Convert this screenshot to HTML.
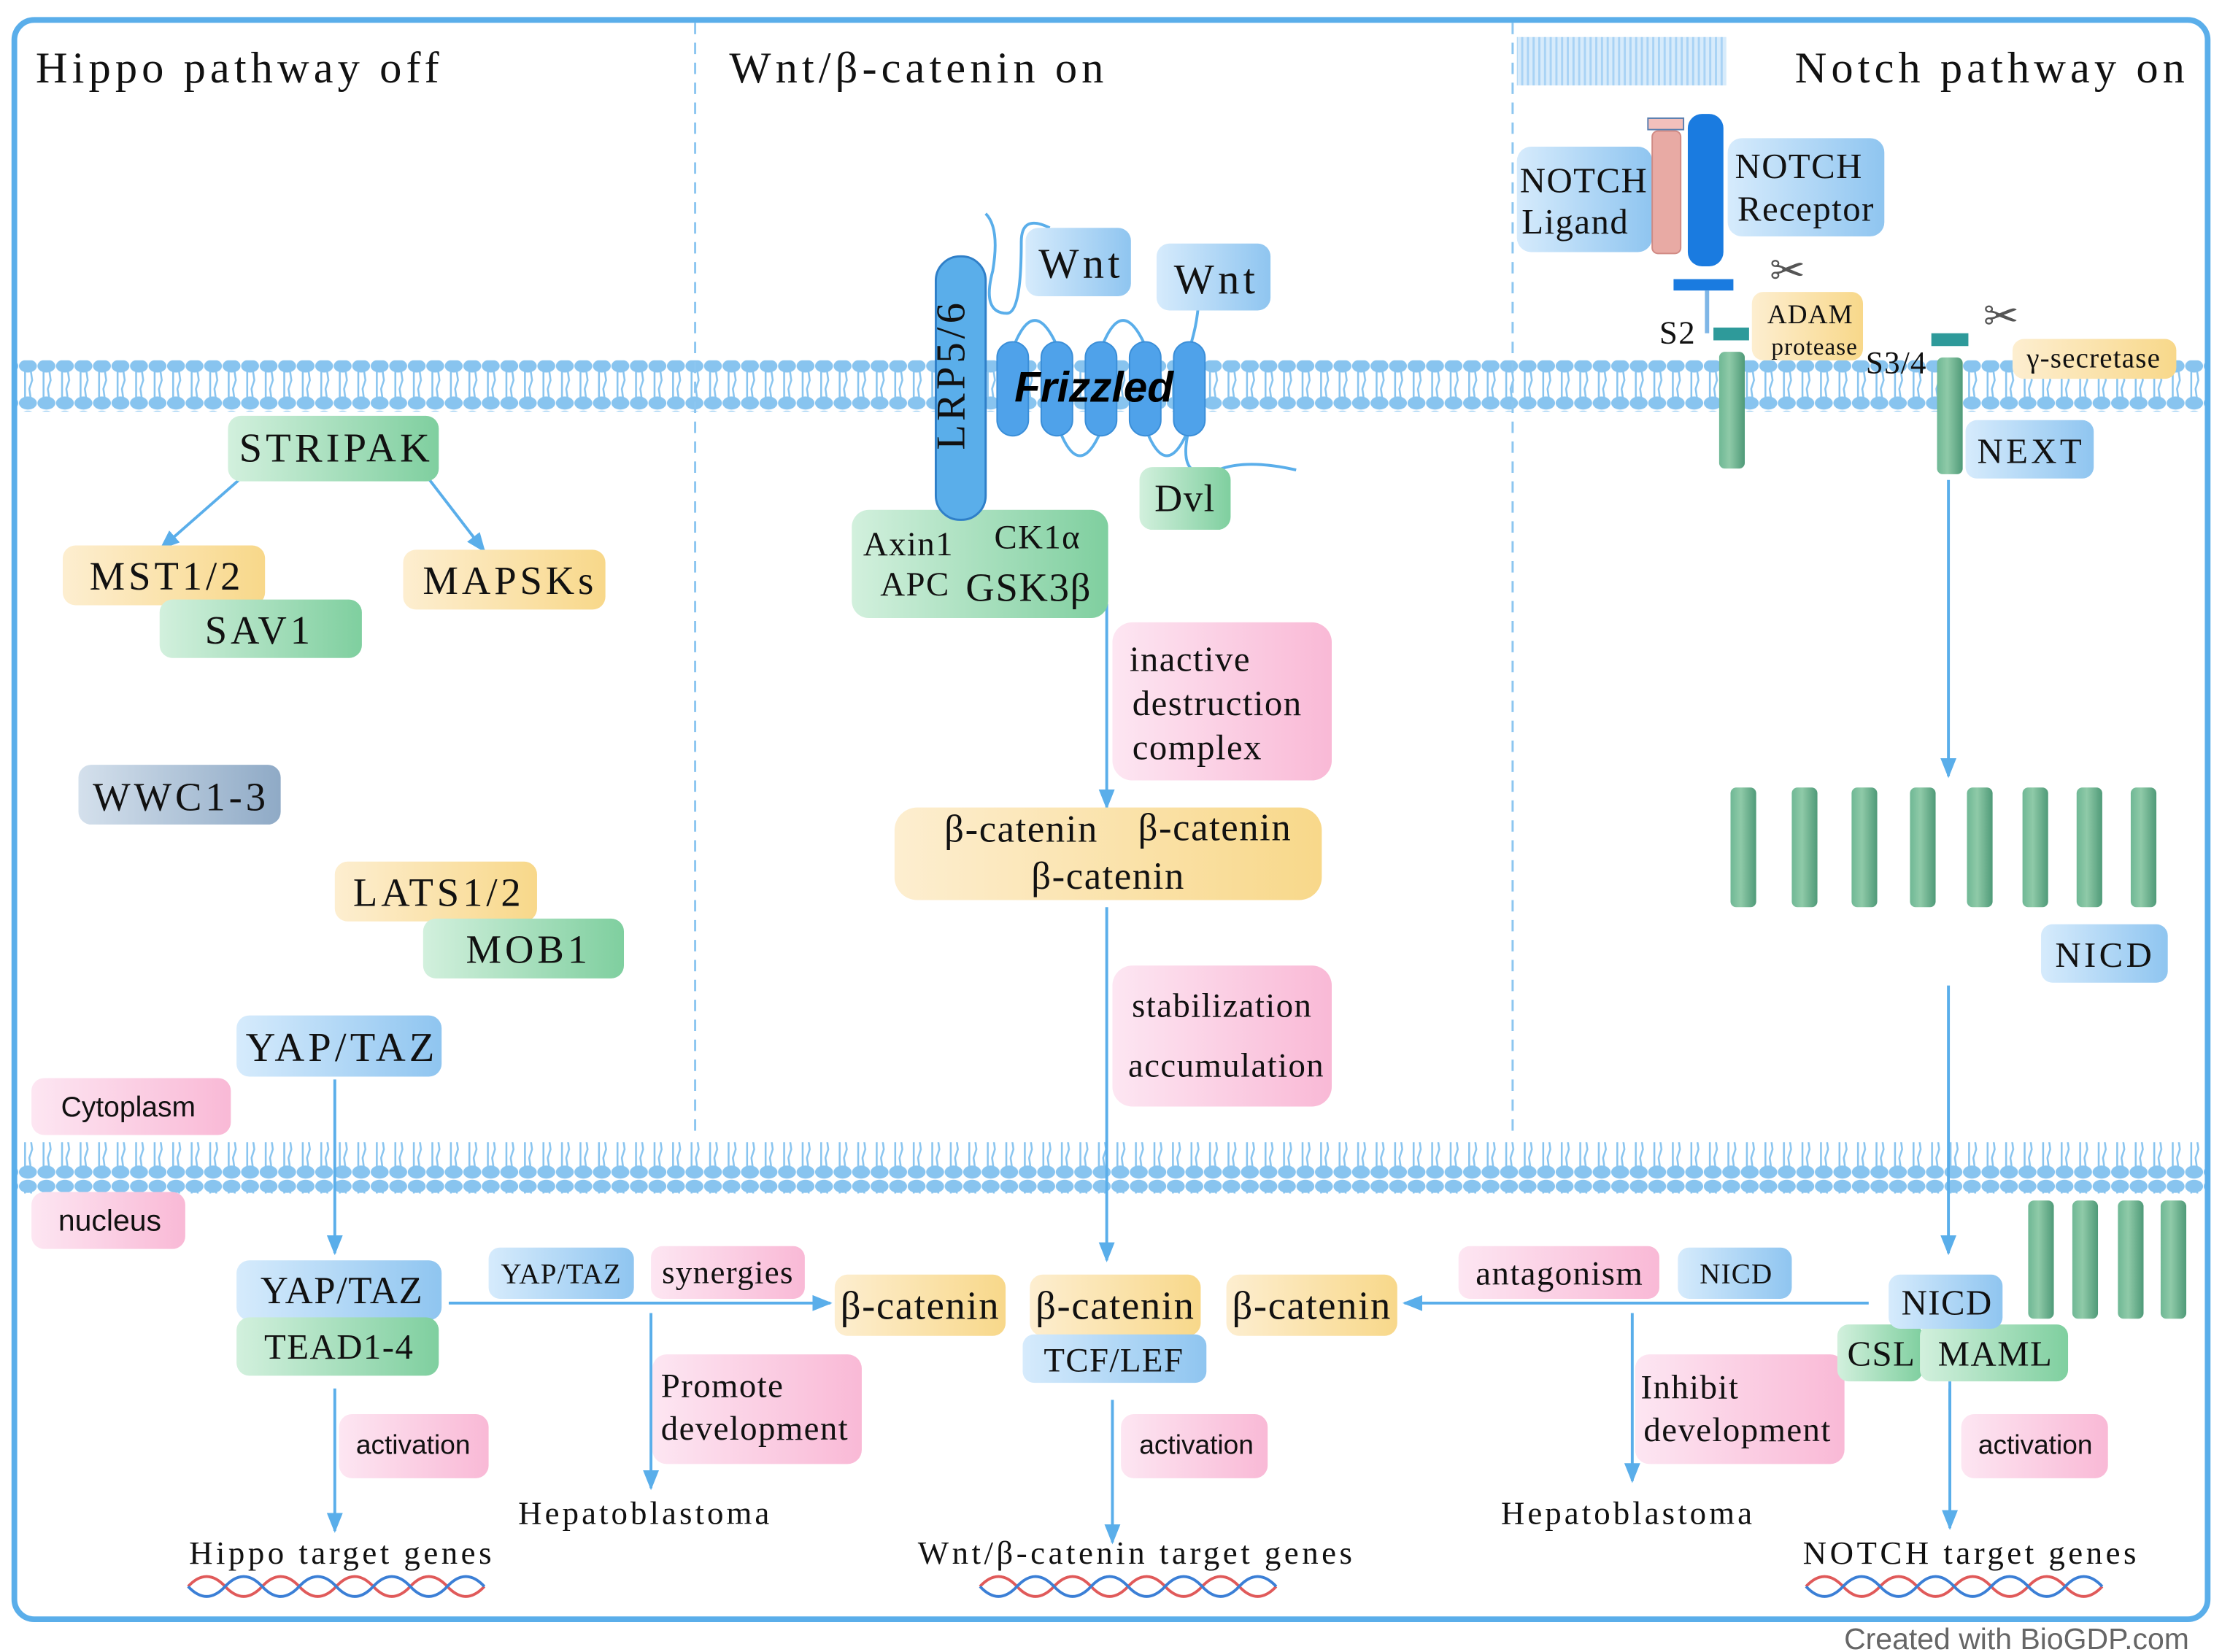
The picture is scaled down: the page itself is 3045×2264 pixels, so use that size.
<!DOCTYPE html>
<html><head><meta charset="utf-8"><style>
html,body{margin:0;padding:0;background:#fff}
svg{display:block}
.s{font-family:"Liberation Serif",serif;fill:#111;letter-spacing:0.03em}
.w{letter-spacing:0.09em}
.t{letter-spacing:0.1em}
.a{font-family:"Liberation Sans",sans-serif;fill:#111}
</style></head><body>
<svg width="3045" height="2264" viewBox="0 0 1560 1160" xmlns="http://www.w3.org/2000/svg">
<defs>
<linearGradient id="gG" x1="0" x2="1"><stop offset="0" stop-color="#d2f0dd"/><stop offset="1" stop-color="#7fcf9f"/></linearGradient>
<linearGradient id="gY" x1="0" x2="1"><stop offset="0" stop-color="#fdeed0"/><stop offset="1" stop-color="#f8d88a"/></linearGradient>
<linearGradient id="gB" x1="0" x2="1"><stop offset="0" stop-color="#d6ebfc"/><stop offset="1" stop-color="#8fc5f0"/></linearGradient>
<linearGradient id="gP" x1="0" x2="1"><stop offset="0" stop-color="#fde6f2"/><stop offset="1" stop-color="#f9b9d6"/></linearGradient>
<linearGradient id="gW" x1="0" x2="1"><stop offset="0" stop-color="#d4e0ec"/><stop offset="1" stop-color="#8faac6"/></linearGradient>
<linearGradient id="cyl" x1="0" x2="1"><stop offset="0" stop-color="#6fb895"/><stop offset="0.4" stop-color="#8fcaa8"/><stop offset="1" stop-color="#4f9a78"/></linearGradient>
<pattern id="mem" x="0" y="0" width="13" height="36" patternUnits="userSpaceOnUse">
<ellipse cx="6.5" cy="5" rx="6.3" ry="4.6" fill="#88c4ef"/>
<ellipse cx="6.5" cy="31" rx="6.3" ry="4.6" fill="#88c4ef"/>
<path d="M4.5 8 V28 M8.5 8 L9.5 15 L7.5 21 L8.5 28" stroke="#88c4ef" stroke-width="1.3" fill="none"/>
</pattern>
<marker id="ar" viewBox="0 0 10 10" refX="9" refY="5" markerWidth="7" markerHeight="7" orient="auto"><path d="M0 1 L10 5 L0 9 z" fill="#5aaeea"/></marker>
<pattern id="hat" width="4" height="34" patternUnits="userSpaceOnUse"><rect width="4" height="34" fill="#d7ebfb"/><rect width="1.5" height="34" fill="#a9d3f5"/></pattern>
<g id="dna"><path d="M0 10 q13 -14 26 0 t26 0 t26 0 t26 0 t26 0 t26 0 t26 0 t26 0" stroke="#e05a5a" stroke-width="2" fill="none"/><path d="M0 10 q13 14 26 0 t26 0 t26 0 t26 0 t26 0 t26 0 t26 0 t26 0" stroke="#3b7fd6" stroke-width="2" fill="none"/></g>
</defs>
<rect x="0" y="0" width="1560" height="1160" fill="#fff"/>
<rect x="12" y="253" width="1536" height="36" fill="url(#mem)"/>
<rect x="12" y="802" width="1536" height="36" fill="url(#mem)"/>
<rect x="10" y="14" width="1540" height="1123" rx="14" fill="none" stroke="#5aaeea" stroke-width="4"/>
<line x1="488" y1="16" x2="488" y2="800" stroke="#8cc6f0" stroke-width="1.5" stroke-dasharray="8,6"/>
<line x1="1062" y1="16" x2="1062" y2="800" stroke="#8cc6f0" stroke-width="1.5" stroke-dasharray="8,6"/>
<text class="s t" x="25" y="58" font-size="31">Hippo pathway off</text>
<text class="s t" x="512" y="58" font-size="31">Wnt/β-catenin on</text>
<text class="s t" x="1537" y="58" font-size="31" text-anchor="end">Notch pathway on</text>
<text class="a" x="1537" y="1158" font-size="21" text-anchor="end" style="fill:#666">Created with BioGDP.com</text>

<g stroke="#5aaeea" stroke-width="2" fill="none" marker-end="url(#ar)">
<line x1="170" y1="335" x2="113" y2="385"/>
<line x1="300" y1="335" x2="340" y2="387"/>
<line x1="235" y1="758" x2="235" y2="880"/>
<line x1="235" y1="975" x2="235" y2="1075"/>
<line x1="315" y1="915" x2="583" y2="915"/>
<line x1="457" y1="922" x2="457" y2="1045"/>
<line x1="777" y1="424" x2="777" y2="567"/>
<line x1="777" y1="637" x2="777" y2="885"/>
<line x1="781" y1="983" x2="781" y2="1083"/>
<line x1="1312" y1="915" x2="986" y2="915"/>
<line x1="1146" y1="922" x2="1146" y2="1040"/>
<line x1="1368" y1="337" x2="1368" y2="545"/>
<line x1="1368" y1="692" x2="1368" y2="880"/>
<line x1="1369" y1="975" x2="1369" y2="1073"/>
</g>

<rect x="160" y="292" width="148" height="46" rx="9" fill="url(#gG)"/><text class="s w" x="236" y="324" font-size="29" text-anchor="middle">STRIPAK</text>
<rect x="44" y="383" width="142" height="42" rx="9" fill="url(#gY)"/><text class="s w" x="117" y="414" font-size="28" text-anchor="middle">MST1/2</text>
<rect x="112" y="421" width="142" height="41" rx="9" fill="url(#gG)"/><text class="s w" x="182" y="452" font-size="28" text-anchor="middle">SAV1</text>
<rect x="283" y="386" width="142" height="42" rx="9" fill="url(#gY)"/><text class="s w" x="358" y="417" font-size="28" text-anchor="middle">MAPSKs</text>
<rect x="55" y="537" width="142" height="42" rx="9" fill="url(#gW)"/><text class="s w" x="127" y="569" font-size="28" text-anchor="middle">WWC1-3</text>
<rect x="235" y="605" width="142" height="42" rx="9" fill="url(#gY)"/><text class="s w" x="308" y="636" font-size="28" text-anchor="middle">LATS1/2</text>
<rect x="297" y="645" width="141" height="42" rx="9" fill="url(#gG)"/><text class="s w" x="371" y="676" font-size="28" text-anchor="middle">MOB1</text>
<rect x="166" y="713" width="144" height="43" rx="9" fill="url(#gB)"/><text class="s w" x="240" y="745" font-size="29" text-anchor="middle">YAP/TAZ</text>
<rect x="22" y="757" width="140" height="40" rx="9" fill="url(#gP)"/><text class="a" x="90" y="784" font-size="20" text-anchor="middle">Cytoplasm</text>
<rect x="22" y="837" width="108" height="40" rx="9" fill="url(#gP)"/><text class="a" x="77" y="864" font-size="21" text-anchor="middle">nucleus</text>
<rect x="166" y="885" width="144" height="42" rx="9" fill="url(#gB)"/><text class="s" x="240" y="915" font-size="27" text-anchor="middle">YAP/TAZ</text>
<rect x="166" y="925" width="142" height="41" rx="9" fill="url(#gG)"/><text class="s" x="238" y="954" font-size="25" text-anchor="middle">TEAD1-4</text>
<rect x="238" y="993" width="105" height="45" rx="9" fill="url(#gP)"/><text class="a" x="290" y="1021" font-size="19" text-anchor="middle">activation</text>
<text class="s t" x="240" y="1098" font-size="23" text-anchor="middle">Hippo target genes</text>
<use href="#dna" x="132" y="1104"/>
<rect x="343" y="876" width="102" height="36" rx="8" fill="url(#gB)"/><text class="s" x="394" y="901" font-size="20" text-anchor="middle">YAP/TAZ</text>
<rect x="457" y="875" width="108" height="37" rx="8" fill="url(#gP)"/><text class="s" x="511" y="901" font-size="23" text-anchor="middle">synergies</text>
<rect x="458" y="951" width="147" height="77" rx="10" fill="url(#gP)"/><text class="s" x="464" y="981" font-size="24">Promote</text><text class="s" x="464" y="1011" font-size="24">development</text>
<text class="s w" x="453" y="1070" font-size="23" text-anchor="middle">Hepatoblastoma</text>

<path d="M692 150 q10 10 5 40 q-8 30 10 30 q10 0 10 -50 q0 -20 20 -10" stroke="#5aaeea" stroke-width="2" fill="none"/>
<g fill="none" stroke="#5aaeea" stroke-width="2">
<path d="M711 245 q15 -40 32 0 M773 245 q15 -40 32 0 M835 245 q10 -30 5 -60"/>
<path d="M743 300 q15 40 31 0 M804 300 q15 40 31 0 M835 300 q-10 40 20 30 q20 -8 55 0"/>
</g>
<rect x="720" y="160" width="74" height="48" rx="9" fill="url(#gB)"/><text class="s w" x="759" y="195" font-size="30" text-anchor="middle">Wnt</text>
<rect x="812" y="171" width="80" height="47" rx="9" fill="url(#gB)"/><text class="s w" x="854" y="206" font-size="30" text-anchor="middle">Wnt</text>
<g fill="#4fa2ea" stroke="#3a8ed8" stroke-width="1">
<rect x="700" y="240" width="22" height="66" rx="11"/><rect x="731" y="240" width="22" height="66" rx="11"/><rect x="762" y="240" width="22" height="66" rx="11"/><rect x="793" y="240" width="22" height="66" rx="11"/><rect x="824" y="240" width="22" height="66" rx="11"/>
</g>
<text x="768" y="282" font-size="30" font-family="Liberation Sans,sans-serif" font-style="italic" font-weight="bold" text-anchor="middle" fill="#000">Frizzled</text>
<rect x="800" y="328" width="64" height="44" rx="9" fill="url(#gG)"/><text class="s" x="832" y="359" font-size="27" text-anchor="middle">Dvl</text>
<rect x="598" y="358" width="180" height="76" rx="12" fill="url(#gG)"/>
<rect x="657" y="180" width="35" height="185" rx="17" fill="#5aaeea" stroke="#2f7fc8" stroke-width="1.5"/>
<text class="s w" x="686" y="272" font-size="29" text-anchor="middle" transform="rotate(-90 677 272)">LRP5/6</text>
<text class="s" x="606" y="390" font-size="24">Axin1</text><text class="s" x="698" y="385" font-size="24">CK1α</text>
<text class="s" x="618" y="418" font-size="24">APC</text><text class="s" x="678" y="422" font-size="28">GSK3β</text>
<rect x="781" y="437" width="154" height="111" rx="14" fill="url(#gP)"/>
<text class="s" x="793" y="471" font-size="25">inactive</text><text class="s" x="795" y="502" font-size="25">destruction</text><text class="s" x="795" y="533" font-size="25">complex</text>
<rect x="628" y="567" width="300" height="65" rx="16" fill="url(#gY)"/>
<text class="s" x="717" y="591" font-size="27" text-anchor="middle">β-catenin</text><text class="s" x="853" y="590" font-size="27" text-anchor="middle">β-catenin</text><text class="s" x="778" y="624" font-size="27" text-anchor="middle">β-catenin</text>
<rect x="781" y="678" width="154" height="99" rx="14" fill="url(#gP)"/>
<text class="s" x="858" y="714" font-size="24" text-anchor="middle">stabilization</text><text class="s" x="861" y="756" font-size="24" text-anchor="middle">accumulation</text>
<rect x="586" y="895" width="120" height="43" rx="9" fill="url(#gY)"/><text class="s" x="646" y="926" font-size="28" text-anchor="middle">β-catenin</text>
<rect x="723" y="895" width="120" height="43" rx="9" fill="url(#gY)"/><text class="s" x="783" y="926" font-size="28" text-anchor="middle">β-catenin</text>
<rect x="718" y="937" width="129" height="34" rx="8" fill="url(#gB)"/><text class="s" x="782" y="963" font-size="24" text-anchor="middle">TCF/LEF</text>
<rect x="861" y="895" width="120" height="43" rx="9" fill="url(#gY)"/><text class="s" x="921" y="926" font-size="28" text-anchor="middle">β-catenin</text>
<rect x="787" y="993" width="103" height="45" rx="9" fill="url(#gP)"/><text class="a" x="840" y="1021" font-size="19" text-anchor="middle">activation</text>
<text class="s t" x="798" y="1098" font-size="23" text-anchor="middle">Wnt/β-catenin target genes</text>
<use href="#dna" x="688" y="1104"/>

<rect x="1065" y="26" width="147" height="34" fill="url(#hat)"/>
<rect x="1065" y="103" width="95" height="74" rx="10" fill="url(#gB)"/>
<text class="s" x="1112" y="135" font-size="25" text-anchor="middle">NOTCH</text><text class="s" x="1106" y="164" font-size="25" text-anchor="middle">Ligand</text>
<rect x="1160" y="92" width="20" height="86" rx="4" fill="#e8aaa4" stroke="#d08a84"/>
<rect x="1157" y="83" width="25" height="8" fill="#f2c0bc" stroke="#5a7fb0"/>
<rect x="1185" y="80" width="25" height="107" rx="10" fill="#1a7be0"/>
<rect x="1213" y="97" width="110" height="69" rx="10" fill="url(#gB)"/>
<text class="s" x="1263" y="125" font-size="25" text-anchor="middle">NOTCH</text><text class="s" x="1268" y="155" font-size="25" text-anchor="middle">Receptor</text>
<rect x="1175" y="196" width="42" height="8" fill="#1a7be0"/>
<rect x="1197" y="204" width="3" height="30" fill="#7fb6e6"/>
<text class="s" x="1165" y="241" font-size="23">S2</text>
<rect x="1203" y="230" width="25" height="9" fill="#2e9a9a"/>
<rect x="1207" y="247" width="18" height="82" rx="4" fill="url(#cyl)"/>
<text x="1255" y="200" font-size="30" fill="#555" text-anchor="middle">✂</text>
<rect x="1230" y="205" width="78" height="48" rx="8" fill="url(#gY)"/>
<text class="s" x="1271" y="227" font-size="19" text-anchor="middle">ADAM</text><text class="s" x="1274" y="249" font-size="17" text-anchor="middle">protease</text>
<text class="s" x="1310" y="262" font-size="22">S3/4</text>
<rect x="1356" y="234" width="26" height="9" fill="#2e9a9a"/>
<rect x="1360" y="251" width="18" height="82" rx="4" fill="url(#cyl)"/>
<text x="1405" y="232" font-size="30" fill="#555" text-anchor="middle">✂</text>
<rect x="1413" y="238" width="115" height="28" rx="8" fill="url(#gY)"/>
<text class="s" x="1470" y="258" font-size="20" text-anchor="middle">γ-secretase</text>
<rect x="1380" y="295" width="90" height="41" rx="8" fill="url(#gB)"/><text class="s w" x="1426" y="325" font-size="25" text-anchor="middle">NEXT</text>
<g fill="url(#cyl)">
<rect x="1215" y="553" width="18" height="84" rx="4"/><rect x="1258" y="553" width="18" height="84" rx="4"/><rect x="1300" y="553" width="18" height="84" rx="4"/><rect x="1341" y="553" width="18" height="84" rx="4"/><rect x="1381" y="553" width="18" height="84" rx="4"/><rect x="1420" y="553" width="18" height="84" rx="4"/><rect x="1458" y="553" width="18" height="84" rx="4"/><rect x="1496" y="553" width="18" height="84" rx="4"/>
<rect x="1424" y="843" width="18" height="83" rx="4"/><rect x="1455" y="843" width="18" height="83" rx="4"/><rect x="1487" y="843" width="18" height="83" rx="4"/><rect x="1517" y="843" width="18" height="83" rx="4"/>
</g>
<rect x="1433" y="649" width="89" height="41" rx="8" fill="url(#gB)"/><text class="s w" x="1478" y="679" font-size="25" text-anchor="middle">NICD</text>
<rect x="1024" y="875" width="141" height="37" rx="8" fill="url(#gP)"/><text class="s" x="1095" y="902" font-size="24" text-anchor="middle">antagonism</text>
<rect x="1178" y="876" width="80" height="36" rx="8" fill="url(#gB)"/><text class="s" x="1219" y="901" font-size="20" text-anchor="middle">NICD</text>
<rect x="1148" y="951" width="147" height="77" rx="10" fill="url(#gP)"/><text class="s" x="1152" y="982" font-size="24">Inhibit</text><text class="s" x="1154" y="1012" font-size="24">development</text>
<text class="s w" x="1143" y="1070" font-size="23" text-anchor="middle">Hepatoblastoma</text>
<rect x="1290" y="930" width="60" height="40" rx="8" fill="url(#gG)"/><text class="s" x="1321" y="959" font-size="25" text-anchor="middle">CSL</text>
<rect x="1348" y="930" width="104" height="40" rx="8" fill="url(#gG)"/><text class="s" x="1401" y="959" font-size="25" text-anchor="middle">MAML</text>
<rect x="1326" y="895" width="80" height="38" rx="8" fill="url(#gB)"/><text class="s" x="1367" y="923" font-size="25" text-anchor="middle">NICD</text>
<line x1="1369" y1="970" x2="1369" y2="990" stroke="#5aaeea" stroke-width="2"/>
<rect x="1377" y="993" width="103" height="45" rx="9" fill="url(#gP)"/><text class="a" x="1429" y="1021" font-size="19" text-anchor="middle">activation</text>
<text class="s t" x="1384" y="1098" font-size="23" text-anchor="middle">NOTCH target genes</text>
<use href="#dna" x="1268" y="1104"/>
</svg>
</body></html>
